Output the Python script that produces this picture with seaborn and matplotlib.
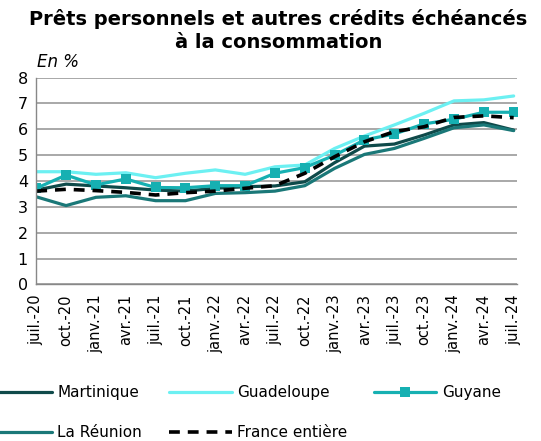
import numpy as np
import pandas as pd
import matplotlib
matplotlib.use('Agg')
import matplotlib.pyplot as plt
import seaborn as sns

# Données trimestrielles (taux en %)
dates = ['juil.-20', 'oct.-20', 'janv.-21', 'avr.-21', 'juil.-21', 'oct.-21',
         'janv.-22', 'avr.-22', 'juil.-22', 'oct.-22', 'janv.-23', 'avr.-23',
         'juil.-23', 'oct.-23', 'janv.-24', 'avr.-24', 'juil.-24']
martinique = [3.65, 3.88, 3.81, 3.74, 3.65, 3.61, 3.72, 3.78, 3.81, 3.97,
              4.71, 5.35, 5.43, 5.78, 6.17, 6.26, 5.97]
guadeloupe = [4.36, 4.36, 4.26, 4.32, 4.13, 4.30, 4.43, 4.26, 4.55, 4.62,
              5.26, 5.74, 6.17, 6.62, 7.10, 7.14, 7.29]
guyane = [3.72, 4.23, 3.85, 4.08, 3.75, 3.74, 3.82, 3.82, 4.30, 4.52,
          5.00, 5.59, 5.82, 6.21, 6.39, 6.66, 6.66]
reunion = [3.39, 3.05, 3.37, 3.43, 3.24, 3.24, 3.52, 3.55, 3.61, 3.82,
           4.49, 5.03, 5.26, 5.65, 6.06, 6.17, 5.95]
france = [3.61, 3.68, 3.63, 3.56, 3.46, 3.55, 3.61, 3.72, 3.82, 4.30,
          4.94, 5.52, 5.91, 6.10, 6.46, 6.52, 6.45]

x = np.arange(len(dates))
df = pd.DataFrame({'x': x, 'Martinique': martinique, 'Guadeloupe': guadeloupe,
                   'Guyane': guyane, 'La Réunion': reunion, 'France entière': france})

sns.set_style('white')
plt.rcParams['font.family'] = ['DejaVu Sans']
plt.rcParams['text.color'] = 'black'
plt.rcParams['xtick.labelcolor'] = 'black'
plt.rcParams['ytick.labelcolor'] = 'black'

fig = plt.figure(figsize=(5.41, 4.41), dpi=100)
ax = fig.add_axes([0.067, 0.355, 0.888, 0.469])

lw = 2.3
sns.lineplot(data=df, x='x', y='Martinique', ax=ax, color='#0f4a4a', lw=lw, label='Martinique')
sns.lineplot(data=df, x='x', y='Guadeloupe', ax=ax, color='#6cf0f2', lw=lw, label='Guadeloupe')
sns.lineplot(data=df, x='x', y='Guyane', ax=ax, color='#16b0b2', lw=lw, marker='s',
             markersize=7, markeredgewidth=0, label='Guyane')
sns.lineplot(data=df, x='x', y='La Réunion', ax=ax, color='#1a7878', lw=lw, label='La Réunion')
sns.lineplot(data=df, x='x', y='France entière', ax=ax, color='black', lw=lw + 0.3,
             linestyle=(0, (3, 2.2)), label='France entière')

ax.set_ylim(0, 8)
ax.set_xlim(0, 16.1)
ax.set_yticks(range(0, 9))
ax.set_xticks(x)
ax.set_xticklabels(dates, rotation=90, fontsize=10.5)
ax.tick_params(axis='y', labelsize=11.5, length=4, color='#888888', pad=2, labelcolor='black')
ax.tick_params(axis='x', length=5, color='#888888', pad=2, labelcolor='black')
ax.yaxis.grid(True, color='#999999', lw=1.2)
ax.set_axisbelow(True)
ax.set_xlabel('')
ax.set_ylabel('')
for s in ['top', 'right']:
    ax.spines[s].set_visible(False)
for s in ['left', 'bottom']:
    ax.spines[s].set_color('#888888')
    ax.spines[s].set_linewidth(1)

ax.legend_.remove()
handles, labels = ax.get_legend_handles_labels()
order = [0, 3, 1, 4, 2]  # remplissage par colonnes
fig.legend([handles[i] for i in order], [labels[i] for i in order],
           loc='lower left', bbox_to_anchor=(-0.045, -0.03), ncol=3,
           frameon=False, fontsize=11, handlelength=4.1, handletextpad=0.35,
           columnspacing=1.75, labelspacing=1.65, labelcolor='black')

fig.text(0.515, 0.98, 'Prêts personnels et autres crédits échéancés\nà la consommation',
         ha='center', va='top', fontsize=14, fontweight='bold', linespacing=1.3,
         color='black')
fig.text(0.068, 0.84, 'En %', fontsize=12, style='italic', ha='left', va='bottom',
         color='black')

fig.savefig('out.png', dpi=100)
